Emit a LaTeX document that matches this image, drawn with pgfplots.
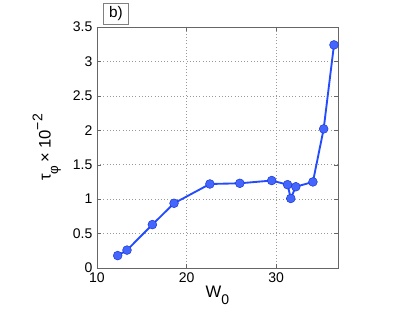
\documentclass[border=0pt]{standalone}
\usepackage{fontspec}
\setmainfont{Liberation Sans}
\usepackage{pgfplots}
\pgfplotsset{compat=1.18}
\definecolor{mblue}{RGB}{35,75,255}
\begin{document}
\begin{tikzpicture}[x=0.75pt,y=0.75pt]
\path[use as bounding box] (0,0) rectangle (415,313);
\begin{axis}[
  at={(97*0.75pt,45*0.75pt)}, anchor=south west,
  scale only axis, width=241*0.75pt, height=241*0.75pt,
  xmin=10, xmax=36.9, ymin=0, ymax=3.5,
  xtick={10,20,30}, ytick={0,0.5,1,1.5,2,2.5,3,3.5},
  yticklabels={0,0.5,1,1.5,2,2.5,3,3.5},
  tick align=inside, tick pos=both,
  major tick length=3pt,
  grid=major,
  major grid style={dotted, black!40, line width=0.4pt},
  axis line style={black!60, line width=0.7pt},
  tick style={black!60},
  ticklabel style={font=\fontsize{10.5}{12}\selectfont},
  /pgf/number format/assume math mode=true,
  xlabel={W\raisebox{-0.4em}{\fontsize{10.5}{12}\selectfont 0}},
  ylabel={τ\raisebox{-0.45em}{\fontsize{10}{12}\selectfont φ}\,× 10\raisebox{0.5em}{\fontsize{10.5}{12}\selectfont −2}},
  label style={font=\fontsize{12.5}{14}\selectfont},
  xlabel style={yshift=4pt},
  ylabel style={yshift=2pt},
  clip=false,
]
\addplot[color=mblue, line width=1.4pt, mark=*, mark size=3.3pt,
  mark options={fill=mblue!85, draw=mblue!80!black, line width=0.4pt}]
coordinates {
(12.31,0.18) (13.35,0.26) (16.18,0.63) (18.6,0.94) (22.6,1.22)
(25.94,1.23) (29.5,1.27) (31.27,1.21) (31.63,1.01) (32.19,1.18)
(34.1,1.25) (35.3,2.02) (36.45,3.24)
};
\node[draw=black!50, line width=0.5pt, fill=white, inner sep=2pt, anchor=south west,
  font=\fontsize{11.5}{13}\selectfont, minimum height=21*0.75pt, minimum width=25*0.75pt]
  at (rel axis cs:0.025,1.01) {b)};
\end{axis}
\end{tikzpicture}
\end{document}
